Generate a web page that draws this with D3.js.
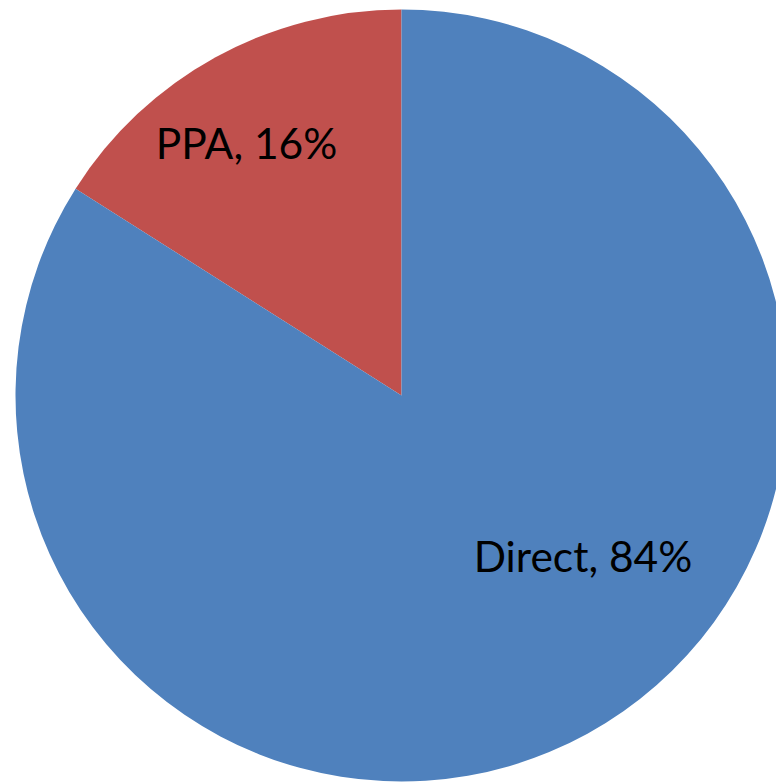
<!DOCTYPE html>
<html><head><meta charset="utf-8">
<script src="https://cdn.jsdelivr.net/npm/d3@7"></script>
<style>html,body{margin:0;padding:0;background:#fff;overflow:hidden}</style>
</head><body>
<svg id="c" width="776" height="782"></svg>
<script>
const categories = ["PPA", "Direct"];
const values = [16, 84];
const colors = ["#C0504D", "#4F81BD"];

const svg = d3.select("#c");
const cx = 401.5, cy = 395.5, r = 386;
const g = svg.append("g").attr("transform", `translate(${cx},${cy})`);

// PPA goes counter-clockwise from 12 o'clock; Direct fills the rest
const total = d3.sum(values);
const pie = d3.pie().sort(null).value(d => d)
  .startAngle(-2 * Math.PI * values[0] / total)
  .endAngle(2 * Math.PI - 2 * Math.PI * values[0] / total);
const arcs = pie(values);
const arc = d3.arc().innerRadius(0).outerRadius(r);

g.selectAll("path").data(arcs).enter().append("path")
  .attr("d", arc).attr("fill", (d, i) => colors[i]);

// label placement (radius fraction, angle offset in radians relative to slice mid)
const labelLayout = [{rf: 0.765, da: -0.05}, {rf: 0.63, da: -0.34}];
g.selectAll("text").data(arcs).enter().append("text")
  .each(function(d, i) {
    const mid = (d.startAngle + d.endAngle) / 2 + labelLayout[i].da;
    const rr = r * labelLayout[i].rf;
    d3.select(this)
      .attr("x", Math.sin(mid) * rr)
      .attr("y", -Math.cos(mid) * rr)
      .attr("dy", "0.35em");
  })
  .attr("text-anchor", "middle")
  .attr("font-family", "Lato, 'Open Sans', sans-serif")
  .attr("font-size", 42.5)
  .attr("fill", "#000")
  .text((d, i) => `${categories[i]}, ${values[i]}%`);
</script>
</body></html>
